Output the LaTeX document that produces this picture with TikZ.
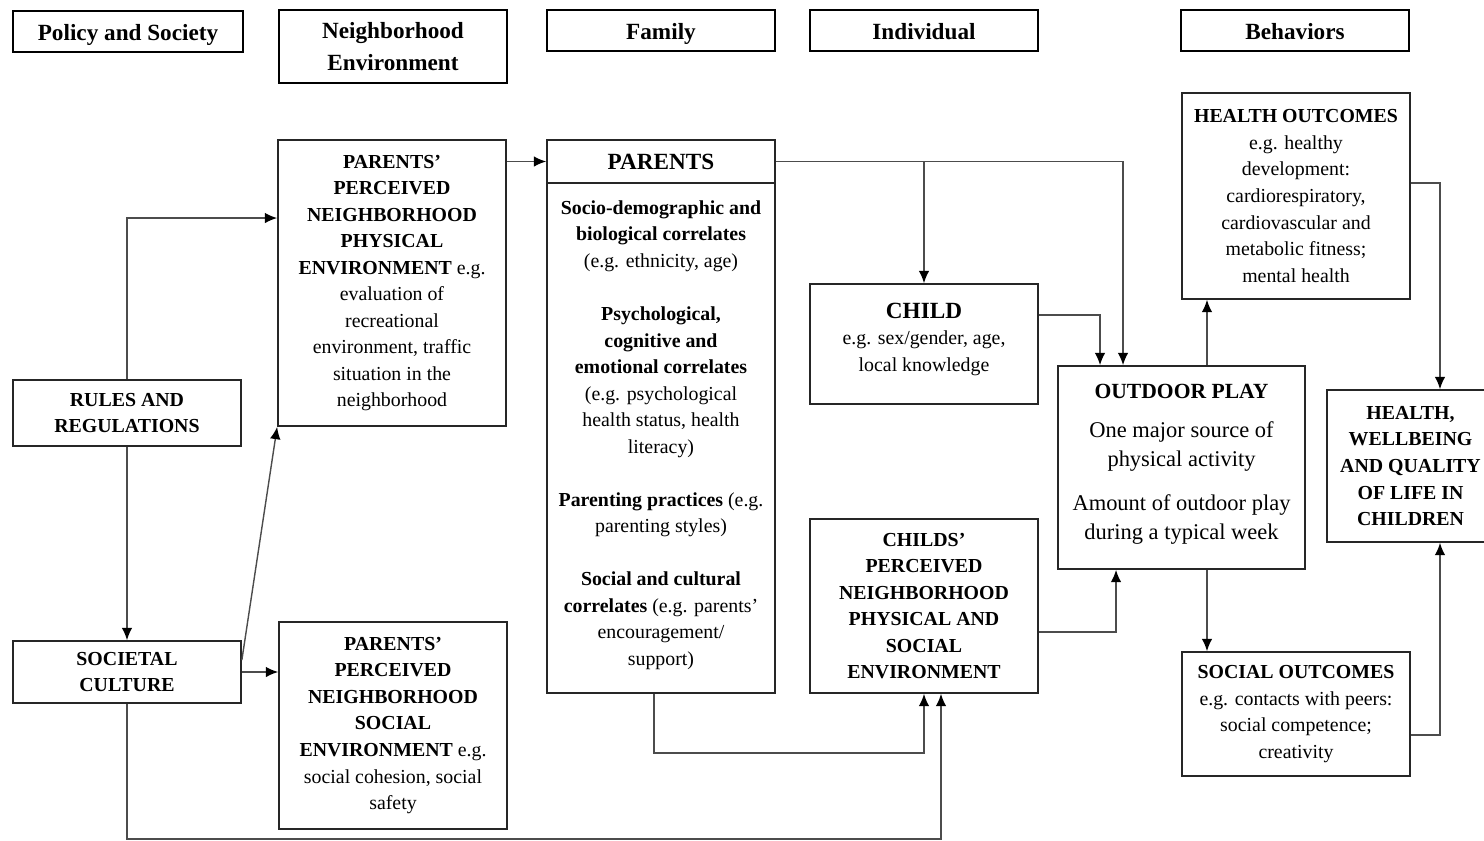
\documentclass[tikz,border=0pt]{standalone}
\usepackage{fontspec}
\setmainfont{Liberation Serif}
\usetikzlibrary{arrows.meta}

\begin{document}
\begin{tikzpicture}[x=0.02cm, y=-0.02cm,
	box/.style={draw=black!85, line width=1pt, align=center, inner sep=2pt, minimum width=4.56cm, font=\fontsize{11.3}{15.1}\selectfont},
	headbox/.style={draw=black, line width=1.4pt, align=center, minimum width=4.56cm, minimum height=0.82cm, font=\bfseries\fontsize{13.2}{18}\selectfont},
	headline/.style={headbox, text height=1.2em, text depth=0.2em},
	conn/.style={draw=black!70, line width=0.8pt, -{Latex[length=7pt,width=6pt,color=black]}}]
	\useasboundingbox (0,0) rectangle (1484,840);
	\clip (0,0) rectangle (1484,840);
	% column headers
	\node[headline, minimum width=4.6cm] (policy) at (128,31.5) {Policy and Society};
	\node[headbox, minimum height=1.46cm] (nbhd) at (393,46.5) {Neighborhood\\Environment};
	\node[headline] (family) at (661,30.5) {Family};
	\node[headline] (indiv) at (924,30.5) {Individual};
	\node[headline] (behav) at (1295,30.5) {Behaviors};
	% policy and society
	\node[box, font=\bfseries\fontsize{11.3}{15.1}\selectfont, minimum height=1.32cm] (rules) at (127,413) {RULES AND\\REGULATIONS};
	\node[box, font=\bfseries\fontsize{11.3}{15.1}\selectfont, minimum height=1.24cm] (societal) at (127,672) {SOCIETAL\\CULTURE};
	% neighborhood
	\node[box, minimum height=5.72cm] (pphys) at (392,283) {\textbf{PARENTS’}\\\textbf{PERCEIVED}\\\textbf{NEIGHBORHOOD}\\\textbf{PHYSICAL}\\\textbf{ENVIRONMENT} e.g.\\evaluation of\\recreational\\environment, traffic\\situation in the\\neighborhood};
	\node[box, minimum height=4.14cm] (psoc) at (393,725.5) {\textbf{PARENTS’}\\\textbf{PERCEIVED}\\\textbf{NEIGHBORHOOD}\\\textbf{SOCIAL}\\\textbf{ENVIRONMENT} e.g.\\social cohesion, social\\safety};
	% family
	\node[box, minimum height=0.86cm, font=\bfseries\fontsize{13.2}{16}\selectfont] (phead) at (661,161.5) {PARENTS};
	\node[box, minimum height=10.2cm] (pbody) at (661,438) {\textbf{Socio-demographic and}\\\textbf{biological correlates}\\(e.g. ethnicity, age)\\[15.1pt]\textbf{Psychological,}\\\textbf{cognitive and}\\\textbf{emotional correlates}\\(e.g. psychological\\health status, health\\literacy)\\[15.1pt]\textbf{Parenting practices} (e.g.\\parenting styles)\\[15.1pt]\textbf{Social and cultural}\\\textbf{correlates} (e.g. parents’\\encouragement/\\support)\\[-9.4pt]};
	% individual
	\node[box, minimum height=2.4cm] (child) at (924,344) {{\bfseries\fontsize{13.2}{16}\selectfont CHILD}\\e.g. sex/gender, age,\\local knowledge\\[-7pt]};
	\node[box, font=\bfseries\fontsize{11.3}{15.1}\selectfont, minimum height=3.48cm] (childenv) at (924,606) {CHILDS’\\PERCEIVED\\NEIGHBORHOOD\\PHYSICAL AND\\SOCIAL\\ENVIRONMENT};
	% behaviors
	\node[box, minimum width=4.94cm, minimum height=4.06cm, font=\fontsize{12.8}{16.4}\selectfont] (outdoor) at (1181.5,467.5) {{\bfseries\fontsize{12.3}{16}\selectfont OUTDOOR PLAY}\\[6pt]One major source of\\physical activity\\[8.5pt]Amount of outdoor play\\during a typical week\\[-9.6pt]};
	\node[box, minimum height=4.12cm] (hout) at (1296,196) {\textbf{HEALTH OUTCOMES}\\e.g. healthy\\development:\\cardiorespiratory,\\cardiovascular and\\metabolic fitness;\\mental health};
	\node[box, minimum height=2.48cm] (sout) at (1296,714) {\textbf{SOCIAL OUTCOMES}\\e.g. contacts with peers:\\social competence;\\creativity};
	\node[box, font=\bfseries\fontsize{11.3}{15.1}\selectfont, minimum width=3.34cm, minimum height=3.04cm] (hw) at (1410.5,466) {HEALTH,\\WELLBEING\\AND QUALITY\\OF LIFE IN\\CHILDREN};
	% connectors
	\coordinate (optop) at ([xshift=0.51cm]outdoor.north);
	\coordinate (opbot) at ([xshift=0.51cm]outdoor.south);
	\coordinate (hwtop) at ([xshift=0.59cm]hw.north);
	\coordinate (hwbot) at ([xshift=0.59cm]hw.south);
	\draw[conn] (rules.north) |- ([yshift=1.3cm]pphys.west);
	\draw[conn] (rules.south) -- (societal.north);
	\draw[conn] ([yshift=0.24cm]societal.east) -- (pphys.south west);
	\draw[conn] (societal.east) -- (psoc.west |- societal.east);
	\draw[conn] (societal.south) -- ++(0,135) -| ([xshift=0.34cm]childenv.south);
	\draw[conn] (pphys.east |- phead.west) -- (phead.west);
	\draw[conn] (phead.east) -| ([xshift=-1.17cm]outdoor.north);
	\draw[conn] (phead.east -| child.north) -- (child.north);
	\draw[conn] ([xshift=-0.14cm]pbody.south) -- ++(0,59) -| (childenv.south);
	\draw[conn] ([yshift=0.58cm]child.east) -| ([xshift=-1.63cm]outdoor.north);
	\draw[conn] ([yshift=-0.52cm]childenv.east) -| ([xshift=-1.31cm]outdoor.south);
	\draw[conn] (optop) -- (optop |- hout.south);
	\draw[conn] (opbot) -- (opbot |- sout.north);
	\draw[conn] ([yshift=0.26cm]hout.east) -| (hwtop);
	\draw[conn] ([yshift=-0.42cm]sout.east) -| (hwbot);
\end{tikzpicture}
\end{document}
